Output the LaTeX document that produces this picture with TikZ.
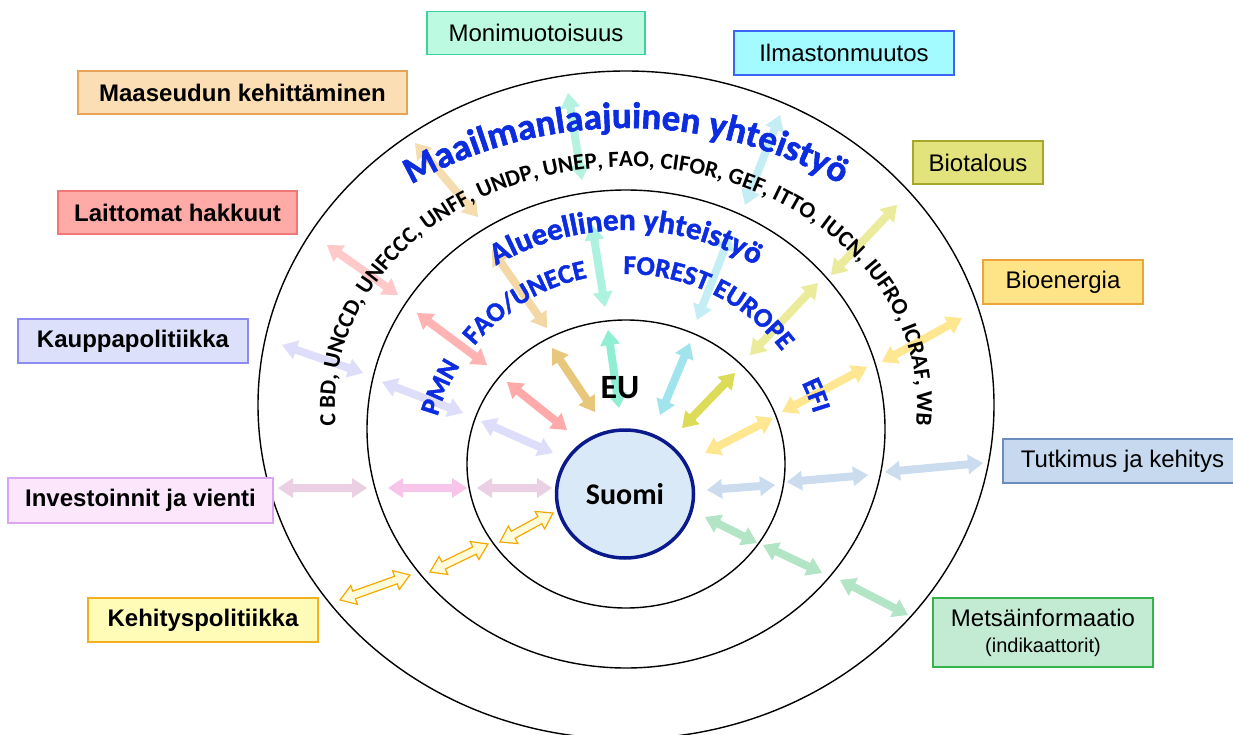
\documentclass[tikz,border=0pt]{standalone}
\usepackage{fontspec}
\setmainfont{Liberation Sans}
\newfontfamily\cfont{Carlito}
\newfontfamily\heavyfont{Carlito}[BoldFeatures={FakeBold=1.6}]
\usetikzlibrary{calc,decorations.text,shapes.geometric}

\definecolor{mintfill}{HTML}{BCFAE2}
\definecolor{mintline}{HTML}{40D0A0}
\definecolor{cyanfill}{HTML}{A3FAFF}
\definecolor{cyanline}{HTML}{3C64F5}
\definecolor{tanfill}{HTML}{FCDEB4}
\definecolor{tanline}{HTML}{E8A456}
\definecolor{olivefill}{HTML}{E3E37D}
\definecolor{oliveline}{HTML}{A6A62A}
\definecolor{redfill}{HTML}{FEABA8}
\definecolor{redline}{HTML}{F27878}
\definecolor{yellfill}{HTML}{FFE387}
\definecolor{yellline}{HTML}{EBA53A}
\definecolor{lavfill}{HTML}{DDE0FA}
\definecolor{lavline}{HTML}{8C8CF0}
\definecolor{pinkfill}{HTML}{FCE6FC}
\definecolor{pinkline}{HTML}{DCA5F0}
\definecolor{steelfill}{HTML}{C6D9EE}
\definecolor{steelline}{HTML}{6A8CBF}
\definecolor{palefill}{HTML}{FFFCB8}
\definecolor{paleline}{HTML}{F5AE1E}
\definecolor{greenfill}{HTML}{C3EBD3}
\definecolor{greenline}{HTML}{36B24A}
\definecolor{suomifill}{HTML}{DAE9F7}
\definecolor{suomiline}{HTML}{0A1A8C}
\definecolor{wordblue}{HTML}{0C2CE0}

\definecolor{tanA}{HTML}{F5DDB0}
\definecolor{tanB}{HTML}{F3D8A6}
\definecolor{tanC}{HTML}{E8C77C}
\definecolor{redA}{HTML}{FFC9C9}
\definecolor{redB}{HTML}{FFB3B3}
\definecolor{redC}{HTML}{FFAAAA}
\definecolor{lavA}{HTML}{DEDEFB}
\definecolor{pinkA}{HTML}{EBCFE2}
\definecolor{pinkB}{HTML}{F8C5EA}
\definecolor{steelA}{HTML}{CADCEE}
\definecolor{greenA}{HTML}{B2E5C5}
\definecolor{yellA}{HTML}{FFE690}
\definecolor{oliveA}{HTML}{EBEB9C}
\definecolor{oliveC}{HTML}{DCDC58}
\definecolor{mintA}{HTML}{B5F3E0}
\definecolor{mintB}{HTML}{ADF2DE}
\definecolor{mintC}{HTML}{90EED2}
\definecolor{cyanA}{HTML}{C4EEF4}
\definecolor{cyanC}{HTML}{A2E4EE}
\definecolor{kehA}{HTML}{FFFCDC}
\definecolor{kehline}{HTML}{F5A800}

\newcommand{\worldfont}{\heavyfont\bfseries\fontsize{37}{37}\selectfont}
\newcommand{\orgfont}{\cfont\bfseries\fontsize{23}{23}\selectfont}
\newcommand{\regionfont}{\heavyfont\bfseries\fontsize{31}{31}\selectfont}
\newcommand{\forumfont}{\heavyfont\bfseries\fontsize{27}{27}\selectfont}

\newcommand{\dblarrow}[3]{%
  \coordinate (ta) at ($(#2)!15pt!(#3)$);
  \coordinate (tb) at ($(#3)!15pt!(#2)$);
  \path[#1] (#2) -- ($(ta)!10pt!90:(#3)$) -- ($(ta)!4pt!90:(#3)$)
    -- ($(tb)!4pt!-90:(#2)$) -- ($(tb)!10pt!-90:(#2)$) -- (#3)
    -- ($(tb)!10pt!90:(#2)$) -- ($(tb)!4pt!90:(#2)$)
    -- ($(ta)!4pt!-90:(#3)$) -- ($(ta)!10pt!-90:(#3)$) -- cycle;}

\tikzset{
  ring/.style={draw=black, line width=1.4pt},
  box/.style={draw, line width=1.3pt, minimum height=43pt, inner sep=0pt, font=\fontsize{24}{28}\selectfont},
  boldbox/.style={box, font=\bfseries\fontsize{24}{28}\selectfont},
  arctext/.style={decorate, decoration={text along path, text align=center, text color=#1}}
}

\begin{document}
\begin{tikzpicture}[x=1pt, y=-1pt]
	\useasboundingbox (0,0) rectangle (1233,735);

	\draw[ring] (626,405) ellipse [x radius=368, y radius=334];
	\draw[ring] (626,429) ellipse [x radius=259, y radius=239];
	\draw[ring] (626,464) ellipse [x radius=159, y radius=144];

	\foreach \col/\xa/\ya/\xb/\yb in {
		tanA/415/143/478/217, tanB/492/250/547/328, tanC/552/348/595/412,
		redA/327/245/398/295, redB/417/313/487/365, redC/507/382/567/430,
		lavA/282/345/363/373, lavA/382/382/463/413, lavA/481/421/553/453,
		pinkA/278/488/367/488, pinkB/388/488/467/488, pinkA/477/488/552/488,
		steelA/707/490/775/485, steelA/787/482/868/475, steelA/885/472/983/463,
		greenA/705/517/757/543, greenA/763/545/822/573, greenA/840/580/908/615,
		yellA/705/453/773/418, yellA/782/412/867/367, yellA/882/362/962/318,
		oliveC/682/428/735/373, oliveA/750/355/818/283, oliveA/831/275/897/205,
		mintC/608/330/619/408, mintB/592/225/605/307, mintA/568/93/582/180,
		cyanC/690/343/660/415, cyanA/730/235/697/320, cyanA/780/115/745/205}
	{
		\coordinate (tail) at (\xa,\ya);
		\coordinate (head) at (\xb,\yb);
		\dblarrow{fill=\col}{tail}{head}
	}
	\foreach \xa/\ya/\xb/\yb in {340/600/410/575, 430/572/488/544, 500/542/553/513}
	{
		\coordinate (tail) at (\xa,\ya);
		\coordinate (head) at (\xb,\yb);
		\dblarrow{fill=kehA, draw=kehline, line width=1.2pt}{tail}{head}
	}

	\path[arctext=black, decoration={text={|\orgfont|C BD, UNCCD, UNFCCC, UNFF, UNDP, UNEP, FAO, CIFOR, GEF, ITTO, IUCN, IUFRO, ICRAF, WB}}]
		($(626,405)+(165:291 and 238)$) arc[start angle=165, end angle=375, x radius=291, y radius=238];
	\path[arctext=wordblue, decoration={text={|\worldfont|Maailmanlaajuinen yhteistyö}}]
		($(626,564)+(220:436)$) arc[start angle=220, end angle=320, radius=436];
	\path[arctext=wordblue, decoration={text={|\regionfont|Alueellinen yhteistyö}}]
		($(626,485)+(222:255)$) arc[start angle=222, end angle=318, radius=255];
	\path[arctext=wordblue, decoration={text={|\forumfont|PMN}}]
		($(626,470)+(185:196)$) arc[start angle=185, end angle=223, radius=196];
	\path[arctext=wordblue, decoration={text={|\forumfont|FAO/UNECE}}]
		($(626,470)+(214:196)$) arc[start angle=214, end angle=264, radius=196];
	\path[arctext=wordblue, decoration={text={|\forumfont|FOREST EUROPE}}]
		($(626,470)+(264:196)$) arc[start angle=264, end angle=328, radius=196];
	\path[arctext=wordblue, decoration={text={|\forumfont|EFI}}]
		($(626,470)+(325:196)$) arc[start angle=325, end angle=352, radius=196];

	\node[font=\cfont\bfseries\fontsize{34}{34}\selectfont] (eu) at (620,388) {EU};
	\node[ellipse, draw=suomiline, line width=3.5pt, fill=suomifill, minimum width=137pt, minimum height=128pt,
		font=\cfont\bfseries\fontsize{30}{30}\selectfont] (suomi) at (625,494) {Suomi};

	\node[box, fill=mintfill, draw=mintline, minimum width=218pt] (moni) at (536,33) {Monimuotoisuus};
	\node[box, fill=cyanfill, draw=cyanline, minimum width=220pt, minimum height=44pt] (ilmasto) at (844,53) {Ilmastonmuutos};
	\node[boldbox, fill=tanfill, draw=tanline, minimum width=329pt] (maaseutu) at (242.5,92.5) {Maaseudun kehittäminen};
	\node[box, fill=olivefill, draw=oliveline, minimum width=130pt] (biotalous) at (978,162.5) {Biotalous};
	\node[boldbox, fill=redfill, draw=redline, minimum width=239pt] (laittomat) at (177.5,212.5) {Laittomat hakkuut};
	\node[box, fill=yellfill, draw=yellline, minimum width=160pt, minimum height=44pt] (bioenergia) at (1063,282) {Bioenergia};
	\node[boldbox, fill=lavfill, draw=lavline, minimum width=230pt, minimum height=44pt] (kauppa) at (133,341) {Kauppapolitiikka};
	\node[boldbox, fill=pinkfill, draw=pinkline, minimum width=265pt, minimum height=45pt] (investoinnit) at (140.5,500.5) {Investoinnit ja vienti};
	\node[box, fill=steelfill, draw=steelline, minimum width=239pt, minimum height=44pt] (tutkimus) at (1122.5,461) {Tutkimus ja kehitys};
	\node[boldbox, fill=palefill, draw=paleline, minimum width=230pt, minimum height=44pt] (kehitys) at (203,620) {Kehityspolitiikka};
	\node[box, fill=greenfill, draw=greenline, minimum width=220pt, minimum height=69pt, align=center] (metsa) at (1043,632.5)
		{Metsäinformaatio\\[-2pt]{\fontsize{20}{22}\selectfont(indikaattorit)}};
\end{tikzpicture}
\end{document}
